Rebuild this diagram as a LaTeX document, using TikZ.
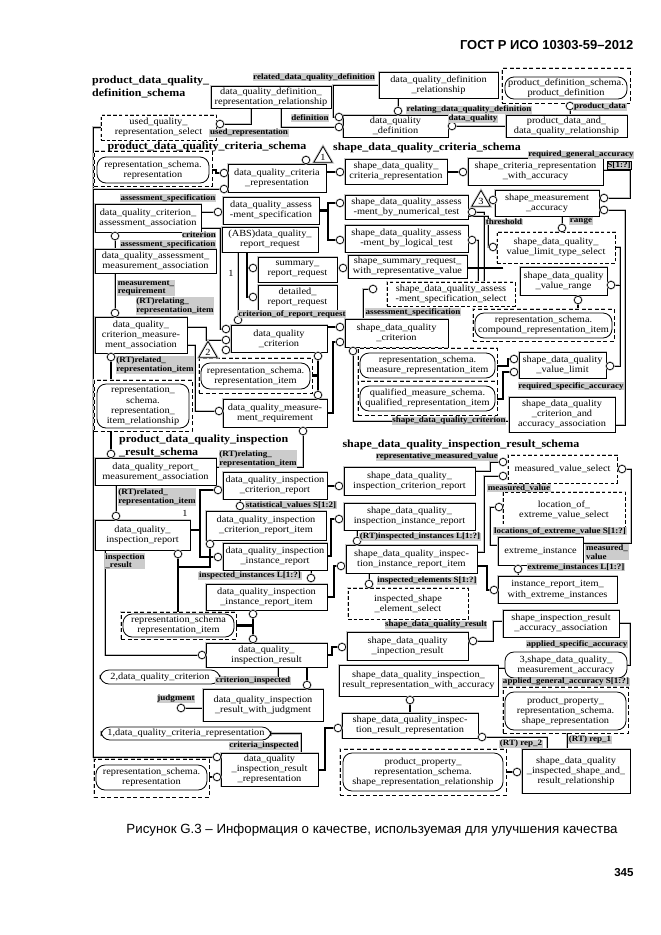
\documentclass[tikz,border=0pt]{standalone}
\usepackage{fontspec}
\usetikzlibrary{shapes.geometric}
\newfontfamily\dfont{Liberation Serif}[FakeStretch=1.1]
\newfontfamily\sfont{Liberation Sans}
\newcommand\boxfont{\dfont\fontsize{9.4}{10.2}\selectfont}
\newcommand\lblfont{\dfont\bfseries\fontsize{8.2}{8.4}\selectfont}
\newcommand\ttlfont{\dfont\bfseries\fontsize{10.9}{13}\selectfont}
\pgfdeclarelayer{bg}
\pgfsetlayers{bg,main}
\tikzset{
  bxbase/.style={draw, line width=0.8pt, fill=white, align=center, inner sep=0pt, font=\boxfont},
  halo/.style={preaction={draw=gray!45, line width=2.6pt}},
  ent/.style={bxbase, halo},
  sel/.style={bxbase, halo, dash pattern=on 3.5pt off 2.2pt},
  grp/.style={bxbase, halo, dash pattern=on 4pt off 2.5pt},
  rnd/.style={bxbase, rounded corners=9pt},
  rel/.style={draw=black, line width=0.5pt, preaction={draw=gray!50, line width=2.2pt}},
  thk/.style={draw=black, line width=2.2pt},
  circ/.style={circle, draw, line width=0.7pt, fill=white, minimum size=7.5pt, inner sep=0pt, preaction={draw=gray!45, line width=2pt}},
  lbl/.style={fill=gray!40, inner sep=0.6pt, font=\lblfont, align=left},
  ttl/.style={font=\ttlfont, align=left, inner sep=0pt},
  tri/.style={draw, line width=0.8pt, fill=white, regular polygon, regular polygon sides=3, minimum size=21pt, inner sep=0pt, font=\boxfont, halo}
}
\newcommand\bx[7][ent]{\node[#1, minimum width={(#5-#3)*1pt}, minimum height={(#6-#4)*1pt}] (#2) at ({(#3+#5)/2},{(#4+#6)/2}) {#7};}
\newcommand\cc[3]{\node[circ] (#1) at (#2,#3) {};}
\newcommand\lb[4]{\node[lbl] (#1) at (#2,#3) {#4};}
\catcode`\_=12
\begin{document}
\begin{tikzpicture}[x=1pt,y=-1pt]
\useasboundingbox (0,0) rectangle (661,935);
% ---------- header / caption ----------
\node[font=\sfont\bfseries\fontsize{13}{15}\selectfont, anchor=east] (hdr) at (637,45) {ГОСТ Р ИСО 10303-59–2012};
\node[font=\sfont\fontsize{13.3}{15}\selectfont] (cap) at (372,830) {Рисунок G.3 – Информация о качестве, используемая для улучшения качества};
\node[font=\sfont\bfseries\fontsize{11.5}{13}\selectfont, anchor=east] (pg) at (637,873) {345};
% ---------- definition schema ----------
\node[ttl, anchor=north west] (T1) at (92,76) {product_data_quality_\\definition_schema};
\bx{dqdrr}{211}{86}{331}{108}{data_quality_definition_\\representation_relationship}
\bx{dqdr}{379}{72}{498}{98}{data_quality_definition\\_relationship}
\bx[grp]{pdg}{502}{68}{630}{103}{}
\bx[rnd]{pd}{505}{77}{627}{99}{product_definition_schema.\\product_definition}
\bx{dqd}{343}{115}{448}{137}{data_quality\\_definition}
\bx{pdadq}{506}{115}{627}{137}{product_data_and_\\data_quality_relationship}
\bx[sel]{uqrs}{101}{115}{216}{140}{used_quality_\\representation_select}
% ---------- criteria schema ----------
\bx[grp]{rsg1}{94}{151}{212}{186}{}
\bx[rnd]{rs1}{97}{157}{209}{183}{representation_schema.\\representation}
\node[ttl] (T2) at (207,147) {product_data_quality_criteria_schema};
\bx{dqcr}{228}{164}{326}{192}{data_quality_criteria\\_representation}
\bx{dqcaa}{95}{204}{201}{232}{data_quality_criterion_\\assessment_association}
\bx{dqas}{223}{197}{319}{224}{data_quality_assess\\-ment_specification}
\bx{dqamaa}{95}{249}{216}{273}{data_quality_assessment_\\measurement_association}
\bx{dqrr}{222}{227}{318}{252}{(ABS)data_quality_\\report_request}
\bx{srr}{258}{257}{337}{282}{summary_\\report_request}
\bx{drr}{258}{285}{337}{310}{detailed_\\report_request}
\bx{dqcma}{95}{317}{187}{353}{data_quality_\\criterion_measure-\\ment_association}
\bx{dqc}{231}{325}{327}{352}{data_quality\\_criterion}
\bx[grp]{rsirg}{94}{380}{192}{431}{}
\bx[rnd]{rsir}{97}{384}{189}{428}{representation_\\schema.\\representation_\\item_relationship}
\bx[grp]{rsig1}{199}{358}{312}{393}{}
\bx[rnd]{rsi1}{201}{363}{310}{389}{representation_schema.\\representation_item}
\bx{dqmr}{223}{399}{327}{427}{data_quality_measure-\\ment_requirement}
\node[ttl] (T3) at (427,148) {shape_data_quality_criteria_schema};
\bx{sdqcr}{345}{159}{447}{184}{shape_data_quality_\\criteria_representation}
\bx{scrwa}{468}{158}{603}{185}{shape_criteria_representation\\_with_accuracy}
\bx{sma}{495}{190}{599}{216}{shape_measurement\\_accuracy}
\bx{sdqan}{345}{195}{468}{219}{shape_data_quality_assess\\-ment_by_numerical_test}
\bx{sdqal}{345}{225}{468}{252}{shape_data_quality_assess\\-ment_by_logical_test}
\bx{ssrw}{348}{255}{467}{278}{shape_summary_request_\\with_representative_value}
\bx[sel]{sdqass}{387}{282}{515}{306}{shape_data_quality_assess\\-ment_specification_select}
\bx[sel]{vlts}{497}{232}{615}{263}{shape_data_quality_\\value_limit_type_select}
\bx{sdqvr}{520}{267}{607}{295}{shape_data_quality\\_value_range}
\bx[grp]{crig}{473}{309}{614}{341}{}
\bx[rnd]{cri}{475}{313}{612}{338}{representation_schema.\\compound_representation_item}
\bx{sdqc}{345}{319}{448}{347}{shape_data_quality\\_criterion}
\bx[grp]{mrig}{358}{348}{497}{381}{}
\bx[rnd]{mri}{360}{353}{495}{378}{representation_schema.\\measure_representation_item}
\bx[grp]{qrig}{358}{381}{497}{415}{}
\bx[rnd]{qri}{360}{386}{495}{411}{qualified_measure_schema.\\qualified_representation_item}
\bx{sdqvl}{519}{352}{606}{378}{shape_data_quality\\_value_limit}
\bx{sdqcaa}{509}{397}{615}{432}{shape_data_quality\\_criterion_and\\accuracy_association}
% ---------- inspection schema (left) ----------
\node[ttl, anchor=north west] (T4) at (119,435) {product_data_quality_inspection\\_result_schema};
\bx{dqrma}{95}{458}{216}{485}{data_quality_report_\\measurement_association}
\bx{dqir}{95}{520}{190}{550}{data_quality_\\inspection_report}
\bx{dqicr}{223}{472}{327}{499}{data_quality_inspection\\_criterion_report}
\bx{dqicri}{206}{511}{326}{540}{data_quality_inspection\\_criterion_report_item}
\bx{dqiir}{223}{543}{327}{570}{data_quality_inspection\\_instance_report}
\bx{dqiiri}{206}{584}{327}{610}{data_quality_inspection\\_instance_report_item}
\bx[grp]{rsig2}{121}{612}{236}{639}{}
\bx[rnd]{rsi2}{123}{614}{234}{637}{representation_schema\\representation_item}
\bx{dqires}{206}{643}{327}{667}{data_quality_\\inspection_result}
\bx[rnd]{ref2}{100}{670}{220}{684}{2,data_quality_criterion}
\bx{dqirwj}{203}{689}{323}{721}{data_quality_inspection\\_result_with_judgment}
\bx[rnd]{ref1}{101}{727}{271}{740}{1,data_quality_criteria_representation}
\bx{dqirr}{221}{753}{318}{786}{data_quality\\_inspection_result\\_representation}
\bx[grp]{rsg2}{94}{759}{209}{797}{}
\bx[rnd]{rs2}{96}{765}{207}{790}{representation_schema.\\representation}
% ---------- inspection schema (right) ----------
\node[ttl] (T5) at (461,445) {shape_data_quality_inspection_result_schema};
\bx{sdqicr}{344}{467}{475}{495}{shape_data_quality_\\inspection_criterion_report}
\bx{sdqiir}{344}{503}{475}{530}{shape_data_quality_\\inspection_instance_report}
\bx{sdqiiri}{346}{545}{477}{573}{shape_data_quality_inspec-\\tion_instance_report_item}
\bx[sel]{ises}{348}{588}{468}{619}{inspected_shape\\_element_select}
\bx[sel]{mvs}{508}{455}{617}{483}{measured_value_select}
\bx[sel]{loevs}{503}{492}{625}{527}{location_of_\\extreme_value_select}
\bx{ei}{498}{537}{583}{565}{extreme_instance}
\bx{iriwe}{498}{576}{617}{603}{instance_report_item_\\with_extreme_instances}
\bx{sdqires}{347}{632}{468}{660}{shape_data_quality\\_inpection_result}
\bx{sira}{503}{610}{619}{637}{shape_inspection_result\\_accuracy_association}
\bx[rnd]{ref3}{505}{652}{627}{678}{3,shape_data_quality_\\measurement_accuracy}
\bx{sdqirrwa}{339}{665}{498}{696}{shape_data_quality_inspection_\\result_representation_with_accuracy}
\bx[grp]{srg}{503}{687}{628}{733}{}
\bx[rnd]{sr}{505}{692}{626}{730}{product_property_\\representation_schema.\\shape_representation}
\bx{sdqirr}{342}{713}{478}{738}{shape_data_quality_inspec-\\tion_result_representation}
\bx[grp]{srrg}{340}{749}{506}{795}{}
\bx[rnd]{srr}{343}{753}{503}{791}{product_property_\\representation_schema.\\shape_representation_relationship}
\bx{sdqisr}{522}{749}{630}{793}{shape_data_quality\\_inspected_shape_and_\\result_relationship}
% ---------- triangles ----------
\node[tri] (t1) at (323,157) {1};
\node[tri] (t2) at (208,352) {2};
\node[tri] (t3) at (481,201) {3};
% ---------- circles ----------
\cc{cUR}{220}{124} \cc{cDef}{339}{127} \cc{cRel}{339}{117} \cc{cRlg}{398}{111}
\cc{cDQ}{452}{126} \cc{cPD}{570}{106}
\cc{cT1}{306}{160} \cc{cCR1}{224}{173} \cc{cCR2}{224}{189} \cc{cAS}{218}{212}
\cc{cAA}{115}{236} \cc{cCr1}{226}{329} \cc{cCr2}{226}{340} \cc{cCr3}{226}{350}
\cc{cS}{253}{268} \cc{cD}{253}{297} \cc{cCoRR}{238}{320} \cc{cMR}{115}{313}
\cc{cN11b}{111}{357} \cc{cMRq}{219}{411} \cc{cQ1}{318}{356} \cc{cQ2}{318}{395}
\cc{cSC}{340}{172} \cc{cSW}{463}{172} \cc{cRGA}{604}{198} \cc{cRSA}{604}{210}
\cc{cT3}{493}{200} \cc{cNum}{340}{203} \cc{cLog}{340}{240} \cc{cNumR}{472}{212}
\cc{cLogR}{472}{240} \cc{cSS}{343}{268} \cc{cTh}{493}{247} \cc{cRg}{562}{228}
\cc{cVR}{611}{285} \cc{cVL}{610}{366} \cc{cVRb}{578}{300} \cc{cSQ1}{340}{327}
\cc{cSQ2}{340}{342} \cc{cASS}{373}{289} \cc{cSDC}{353}{351} \cc{cVL1}{514}{359}
\cc{cVL2}{514}{372}
\cc{cN30t}{111}{454} \cc{cMRb}{303}{431} \cc{cIR}{116}{516} \cc{cCRl}{218}{490}
\cc{cIRl}{218}{557} \cc{cSV}{240}{506} \cc{cIRb}{178}{554} \cc{cCRIb}{210}{544}
\cc{cII}{311}{578} \cc{cIRIb}{253}{614} \cc{cIRt}{253}{639} \cc{cIRs}{202}{655}
\cc{cJ}{307}{685} \cc{cJd}{181}{708} \cc{cX}{217}{757} \cc{cRS2}{217}{777}
\cc{cSCR}{339}{486} \cc{cSIR}{339}{519} \cc{cSIRI}{341}{566} \cc{cRTI}{357}{541}
\cc{cIE}{369}{584} \cc{cMV1}{503}{462} \cc{cMV2}{503}{476} \cc{cMV3}{622}{469}
\cc{cLoc}{499}{507} \cc{cEI}{518}{569} \cc{cIRW}{494}{590} \cc{cSR}{342}{647}
\cc{cSRr}{473}{641} \cc{cWA}{410}{700} \cc{cRR}{338}{728} \cc{cRep2}{482}{737}
\cc{cSRR}{517}{772}
% ---------- labels ----------
\lb{L1}{314}{77}{related_data_quality_definition}
\lb{L2}{310}{118}{definition}
\lb{L3}{249}{133}{used_representation}
\lb{L4}{469}{110}{relating_data_quality_definition}
\lb{L5}{473}{119}{data_quality}
\lb{L6}{600}{107}{product_data}
\lb{L7}{168}{198}{assessment_specification}
\lb{L8}{199}{235}{criterion}
\lb{L9}{168}{244}{assessment_specification}
\lb{L10}{146}{288}{measurement_\\requirement}
\lb{L11}{175}{306}{(RT)relating_\\representation_item}
\lb{L12}{292}{314}{criterion_of_report_request}
\lb{L13}{155}{365}{(RT)related_\\representation_item}
\lb{L14}{581}{155}{required_general_accuracy}
\node[lbl, draw, line width=0.5pt] (L15) at (619,165) {S[1:?]};
\lb{L16}{504}{222}{threshold}
\lb{L17}{581}{221}{range}
\lb{L18}{413}{312}{assessment_specification}
\lb{L19}{571}{386}{required_specific_accuracy}
\lb{L20}{449}{421}{shape_data_quality_criterion}
\lb{L21}{258}{459}{(RT)relating_\\representation_item}
\lb{L22}{157}{497}{(RT)related_\\representation_item}
\lb{L23}{291}{505}{statistical_values S[1:2]}
\lb{L24}{125}{561}{inspection\\_result}
\lb{L25}{250}{576}{inspected_instances L[1:?]}
\lb{L26}{437}{457}{representative_measured_value}
\lb{L27}{519}{488}{measured_value}
\lb{L28}{560}{531}{locations_of_extreme_value S[1:?]}
\lb{L29}{607}{552}{measured_\\value}
\lb{L30}{420}{537}{(RT)inspected_instances L[1:?]}
\lb{L31}{576}{567}{extreme_instances L[1:?]}
\lb{L32}{427}{581}{inspected_elements S[1:?]}
\lb{L33}{436}{625}{shape_data_quality_result}
\lb{L34}{577}{644}{applied_specific_accuracy}
\lb{L35}{566}{682}{applied_general_accuracy S[1:?]}
\lb{L36}{253}{681}{criterion_inspected}
\lb{L37}{176}{699}{judgment}
\lb{L38}{264}{746}{criteria_inspected}
\lb{L39}{521}{744}{(RT) rep_2}
\lb{L40}{590}{740}{(RT) rep_1}
\node[font=\boxfont] (one1) at (231,273) {1};
\node[font=\boxfont] (one2) at (185,513) {1};
% ---------- connectors ----------
\begin{pgfonlayer}{bg}
\draw[rel] (dqdrr.south -| 251,0) |- (cUR);
\draw[rel] (dqdrr.south -| 281,0) |- (cDef);
\draw[rel] (dqdr.west) -- (333,85) |- (cRel);
\draw[rel] (dqdr.south -| cRlg) -- (cRlg);
\draw[rel] (pdadq.west |- cDQ) -- (cDQ);
\draw[rel] (pdadq.north -| cPD) -- (cPD);
\draw[rel] (uqrs.west) -- (93,127.5) -- (93,757) -- (cX);
\draw[rel] (93,189) -- (cCR2);
\draw[rel] (dqcaa.east |- cAS) -- (cAS);
\draw[rel] (dqamaa.north -| cAA) -- (cAA);
\draw[rel] (dqcaa.east |- 0,228) -- (220,228) |- (cCr1);
\draw[rel] (dqrr.south -| cCoRR) -- (cCoRR);
\draw[rel] (dqamaa.south -| cMR) -- (cMR);
\draw[rel] (dqcma.east |- 0,327) -- (206,327) |- (cCr2);
\draw[rel] (dqcma.east |- 0,345) -- (195,345) |- (cMRq);
\draw[rel] (scrwa.east |- 0,170) -- (630,170) |- (cRGA);
\draw[rel] (sdqcaa.east |- 0,425) -- (625,425) |- (cRSA);
\draw[rel] (sdqass.north -| 478,0) |- (cLogR);
\draw[rel] (sdqass.north -| 484,0) |- (cNumR);
\draw[rel] (sdqan.east |- 0,216) -- (488,216) |- (cTh);
\draw[rel] (sma.south -| cRg) -- (cRg);
\draw[rel] (vlts.east |- 0,247) -- (620,247) |- (cVL);
\draw[rel] (620,285) -- (cVR);
\draw[rel] (sdqc.north -| 363,0) |- (cASS);
\draw[rel] (sdqcaa.west |- 0,421) -| (cSDC);
\draw[rel] (dqrma.east |- 0,467) -- (303,467) -- (cMRb);
\draw[rel] (dqrma.south -| cIR) -- (cIR);
\draw[rel] (dqicr.south -| cSV) -- (cSV);
\draw[rel] (dqiir.south -| cII) -- (cII);
\draw[rel] (dqir.south -| 105,0) |- (cIRs);
\draw[rel] (dqires.south -| 278,0) |- (ref2.east);
\draw[rel] (dqirwj.west |- cJd) -- (cJd);
\draw[rel] (ref1.east) -| (dqirr.north -| 301,0);
\draw[rel] (sdqiir.south -| cRTI) -- (cRTI);
\draw[rel] (sdqiiri.south -| cIE) -- (cIE);
\draw[rel] (sdqicr.east |- 0,471) -- (490,471) |- (cMV1);
\draw[rel] (sdqiiri.east |- 0,552) -- (484,552) |- (cMV2);
\draw[rel] (ei.west |- 0,545) -- (490,545) |- (cLoc);
\draw[rel] (ei.east |- 0,543) -- (631,543) |- (cMV3);
\draw[rel] (iriwe.north -| cEI) -- (cEI);
\draw[rel] (sira.west |- 0,621) -- (493,621) |- (cSRr);
\draw[rel] (sira.east |- 0,623) -- (630,623) |- (ref3.east);
\draw[rel] (sdqirrwa.east |- 0,668) -- (ref3.west |- 0,668);
\draw[rel] (sdqisr.north -| 547,0) |- (cRep2);
\draw[rel] (sdqisr.north -| 567,0) -- (srg.south -| 567,0);
% thick (subtype) lines
\draw[thk] (rs1.east) -- (216,170) |- (cCR1);
\draw[thk] (dqcr.east |- cSC) -- (cSC);
\draw[thk] (sdqcr.east |- cSW) -- (cSW);
\draw[thk] (dqas.east) -- (328,210.5) |- (cNum);
\draw[thk] (328,210.5) |- (cLog);
\draw[thk] (dqrr.south -| 247,0) |- (cD);
\draw[thk] (247,268) -- (cS);
\draw[thk] (srr.east |- cSS) -- (cSS);
\draw[thk] (rsirg.north -| cN11b) -- (cN11b);
\draw[thk] (cQ1) -- (cQ2);
\draw[thk] (rsig1.east) -- (rsig1.east -| cQ1);
\draw[thk] (dqc.east |- cSQ1) -- (cSQ1);
\draw[thk] (dqmr.east) -- (333,413) |- (cSQ2);
\draw[thk] (crig.north -| cVRb) -- (cVRb);
\draw[thk] (mrig.east |- 0,366) -- (508,366) |- (cVL1);
\draw[thk] (qrig.east |- 0,399) -- (503,399) |- (cVL2);
\draw[thk] (rsirg.south -| cN30t) -- (cN30t);
\draw[thk] (dqir.east |- 0,530) -- (200,530) |- (cCRl);
\draw[thk] (200,530) |- (cIRl);
\draw[thk] (rsig2.north -| cIRb) -- (cIRb);
\draw[thk] (178,567) -| (cCRIb);
\draw[thk] (cIRIb) -- (cIRt);
\draw[thk] (rsig2.east) -- (rsig2.east -| cIRIb);
\draw[thk] (dqicr.east |- cSCR) -- (cSCR);
\draw[thk] (dqiir.east |- 0,556) -- (331,556) |- (cSIR);
\draw[thk] (dqiiri.east |- 0,597) -- (334,597) |- (cSIRI);
\draw[thk] (sdqiiri.east |- 0,566) -- (487,566) |- (cIRW);
\draw[thk] (dqires.east |- 0,655) -- (332,655) |- (cSR);
\draw[thk] (dqires.south -| cJ) -- (cJ);
\draw[thk] (sdqirr.north -| cWA) -- (cWA);
\draw[thk] (dqirr.east |- 0,770) -- (325,770) |- (cRR);
\draw[thk] (rsg2.east |- cRS2) -- (cRS2);
\draw[thk] (srrg.east |- cSRR) -- (cSRR);
\end{pgfonlayer}
\end{tikzpicture}
\end{document}
